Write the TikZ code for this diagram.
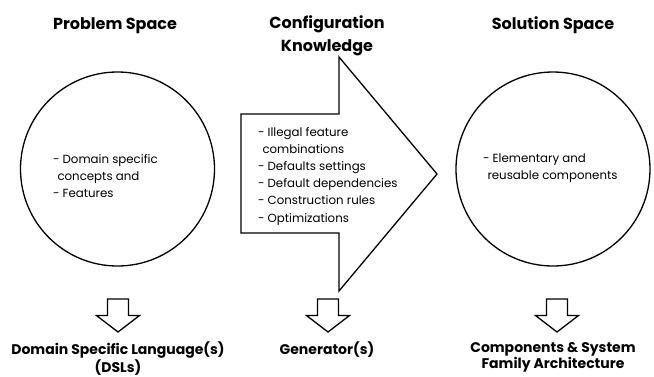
\documentclass[tikz,border=0pt]{standalone}
\usepackage{fontspec}
\setmainfont{Poppins}
\begin{document}
\begin{tikzpicture}[x=1pt,y=-1pt,
  every node/.style={inner sep=0pt, outer sep=0pt},
  heading/.style={font=\fontsize{16}{23}\selectfont\bfseries, align=center},
  outcome/.style={font=\fontsize{14}{15.5}\selectfont\bfseries, align=center},
  notes/.style={font=\fontsize{11.8}{17.2}\selectfont, align=left, anchor=north west},
  space/.style={draw, line width=1.3pt, circle, minimum size=194pt},
  outline/.style={draw, line width=1.3pt, line join=miter},
  blockdown/.pic={
    \draw[outline] (-10.5,-16.5) -- (10.5,-16.5) -- (10.5,0) -- (21.5,0)
      -- (0,16.5) -- (-21.5,0) -- (-10.5,0) -- cycle;
  }
]
\useasboundingbox (0,0) rectangle (654,376);

% column headings
\node[heading, anchor=base] (hp) at (115,29) {Problem Space};
\node[heading, anchor=north] (hc) at (327,16) {Configuration\\Knowledge};
\node[heading, anchor=base] (hs) at (553,29) {Solution Space};

% problem space and solution space
\node[space] (ps) at (117.5,169) {};
\node[space] (ss) at (553,169) {};

% configuration knowledge as a block arrow
\draw[outline] (241,114) -- (339,114) -- (339,57) -- (437,174)
  -- (339,291) -- (339,233) -- (241,233) -- cycle;

\node[notes] (np) at (53,154)
  {- Domain specific\\\hspace*{4.5pt}concepts and\\- Features};
\node[notes] (nc) at (258,127)
  {- Illegal feature\\\hspace*{4.5pt}combinations\\- Defaults settings\\- Default dependencies\\- Construction rules\\- Optimizations};
\node[notes] (ns) at (483,154)
  {- Elementary and\\\hspace*{4.5pt}reusable components};

% down arrows to the outcomes
\pic at (118,315.5) {blockdown};
\pic at (328,315.5) {blockdown};
\pic at (557,315.5) {blockdown};

% outcomes
\node[outcome, anchor=north] (op) at (118,342) {Domain Specific Language(s)\\(DSLs)};
\node[outcome, anchor=base] (oc) at (327,354) {Generator(s)};
\node[outcome, anchor=north] (os) at (553,342.5) {Components \& System\\Family Architecture};
\end{tikzpicture}
\end{document}
